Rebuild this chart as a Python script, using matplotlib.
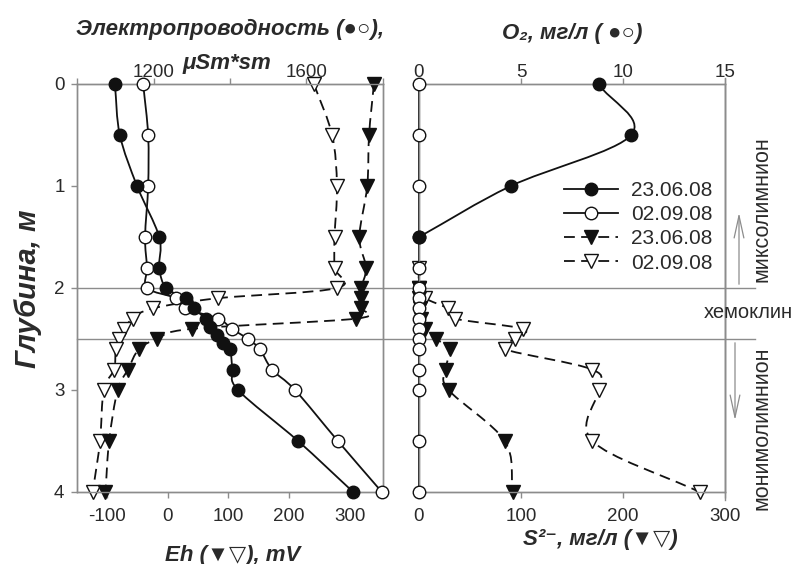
import numpy as np
import matplotlib
matplotlib.use('Agg')
import matplotlib.pyplot as plt
from matplotlib.path import Path
from matplotlib.patches import PathPatch, FancyArrowPatch
from matplotlib.lines import Line2D
import matplotlib.transforms as mtransforms

# ---------------- data ----------------
# Electroconductivity, uSm*sm
cond_jun_depth = [0, 0.5, 1.0, 1.5, 1.8, 2.0, 2.1, 2.2, 2.3, 2.38, 2.46, 2.54, 2.6, 2.8, 3.0, 3.5, 4.0]
cond_jun = [1099, 1112, 1157, 1215, 1215, 1233, 1285, 1305, 1336, 1347, 1366, 1382, 1400, 1407, 1421, 1578, 1722]
cond_sep_depth = [0, 0.5, 1.0, 1.5, 1.8, 2.0, 2.1, 2.2, 2.3, 2.4, 2.5, 2.6, 2.8, 3.0, 3.5, 4.0]
cond_sep = [1173, 1186, 1186, 1178, 1183, 1183, 1259, 1282, 1369, 1405, 1447, 1478, 1510, 1570, 1682, 1797]

# Eh, mV
eh_jun_depth = [0, 0.5, 1.0, 1.5, 1.8, 2.0, 2.1, 2.2, 2.3, 2.4, 2.5, 2.6, 2.8, 3.0, 3.5, 4.0]
eh_jun = [340, 332, 329, 316, 327, 319, 319, 319, 311, 40, -18, -48, -66, -83, -97, -103]
eh_sep_depth = [0, 0.5, 1.0, 1.5, 1.8, 2.0, 2.1, 2.2, 2.3, 2.4, 2.5, 2.6, 2.8, 3.0, 3.5, 4.0]
eh_sep = [241, 271, 279, 275, 275, 279, 83, -25, -58, -72, -81, -86, -89, -106, -112, -124]

# O2, mg/l
o2_jun_depth = [0, 0.5, 1.0, 1.5]
o2_jun = [8.8, 10.4, 4.5, 0]
o2_sep_depth = [0, 0.5, 1.0, 1.5, 1.8, 2.0, 2.1, 2.2, 2.3, 2.4, 2.5, 2.6, 2.8, 3.0, 3.5, 4.0]
o2_sep = [0, 0, 0, 0, 0, 0, 0, 0, 0, 0, 0, 0, 0, 0, 0, 0]

# S2-, mg/l
s_jun_depth = [2.0, 2.1, 2.2, 2.3, 2.4, 2.5, 2.6, 2.8, 3.0, 3.5, 4.0]
s_jun = [0, 0, 1, 2, 6, 17, 30, 26, 29, 84, 92]
s_sep_depth = [1.8, 2.0, 2.1, 2.2, 2.3, 2.4, 2.5, 2.6, 2.8, 3.0, 3.5, 4.0]
s_sep = [0, 0, 6, 28, 35, 102, 94, 84, 170, 176, 170, 275]

legend_labels = ['23.06.08', '02.09.08', '23.06.08', '02.09.08']
chemocline = [2.0, 2.5]

depth_ticks = [0, 1, 2, 3, 4]
eh_ticks = [-100, 0, 100, 200, 300]
cond_ticks = [1000, 1200, 1400, 1600, 1800]
cond_ticklabels = ['', '1200', '', '1600', '']
o2_ticks = [0, 5, 10, 15]
s_ticks = [0, 100, 200, 300]

# ---------------- style ----------------
plt.rcParams['font.family'] = ['Liberation Sans', 'DejaVu Sans']

GRAY = '#8c8c8c'
TXT = '#2a2a2a'
LW = 1.3
MS_C = 9
MS_T = 9.5
DASH = (0, (6, 3.5))
TICK_FS = 13.5

W, H = 795, 564
fig = plt.figure(figsize=(W / 100, H / 100), dpi=100)


def fx(px):
    return px / W


def fy(py):
    return 1 - py / H


def smooth_path(x, y):
    P = np.column_stack([np.asarray(x, float), np.asarray(y, float)])
    if len(P) < 3:
        return Path(P)
    Pe = np.vstack([2 * P[0] - P[1], P, 2 * P[-1] - P[-2]])
    verts = [P[0]]
    codes = [Path.MOVETO]
    for i in range(len(P) - 1):
        p0, p1, p2, p3 = Pe[i], Pe[i + 1], Pe[i + 2], Pe[i + 3]
        verts += [p1 + (p2 - p0) / 6, p2 - (p3 - p1) / 6, p2]
        codes += [Path.CURVE4] * 3
    return Path(verts, codes)


def profile(ax, vals, depth, marker, filled, dashed, ms):
    ls = DASH if dashed else '-'
    ax.add_patch(PathPatch(smooth_path(vals, depth), fill=False, edgecolor='#111111',
                           lw=LW, linestyle=ls, zorder=2, clip_on=False))
    ax.plot(vals, depth, linestyle='none', marker=marker, ms=ms,
            mfc='#111111' if filled else 'white', mec='#111111', mew=1.0,
            zorder=3, clip_on=False)


def style_axes(ax):
    ax.set_facecolor('none')
    for s in ax.spines.values():
        s.set_color(GRAY)
        s.set_linewidth(1.0)


# ---------------- left panel ----------------
axL = fig.add_axes([fx(77), fy(492), fx(383) - fx(77), fy(84) - fy(492)])
style_axes(axL)
axL.set_ylim(4, 0)
axL.set_xlim(-150, 355)
axL.set_yticks(depth_ticks)
axL.set_yticklabels([str(t) for t in depth_ticks])
axL.set_xticks(eh_ticks)
axL.set_xticklabels([str(t) if t >= 0 else '-' + str(-t) for t in eh_ticks])
axL.tick_params(axis='both', direction='out', length=4, color=GRAY, width=1.0,
                labelsize=TICK_FS, labelcolor=TXT)
axL.tick_params(axis='x', pad=7.5)
axL.tick_params(axis='y', pad=5)
profile(axL, eh_sep, eh_sep_depth, 'v', False, True, MS_T)
profile(axL, eh_jun, eh_jun_depth, 'v', True, True, MS_T)

axT = axL.twiny()
style_axes(axT)
axT.set_xlim(1000, 1800)
axT.set_ylim(4, 0)
axT.set_xticks(cond_ticks)
axT.set_xticklabels(cond_ticklabels)
axT.tick_params(axis='x', direction='out', length=4, color=GRAY, width=1.0,
                labelsize=TICK_FS, labelcolor=TXT, pad=-1.5)
profile(axT, cond_sep, cond_sep_depth, 'o', False, False, MS_C)
profile(axT, cond_jun, cond_jun_depth, 'o', True, False, MS_C)

# ---------------- right panel ----------------
axR = fig.add_axes([fx(419), fy(492), fx(725) - fx(419), fy(84) - fy(492)])
style_axes(axR)
axR.set_ylim(4, 0)
axR.set_xlim(0, 300)
axR.set_yticks([])
axR.set_xticks(s_ticks)
axR.set_xticklabels([str(t) for t in s_ticks])
axR.tick_params(axis='x', direction='out', length=4, color=GRAY, width=1.0,
                labelsize=TICK_FS, labelcolor=TXT, pad=7.5)
profile(axR, s_sep, s_sep_depth, 'v', False, True, MS_T)
profile(axR, s_jun, s_jun_depth, 'v', True, True, MS_T)

axRT = axR.twiny()
style_axes(axRT)
axRT.set_xlim(0, 15)
axRT.set_ylim(4, 0)
axRT.set_xticks(o2_ticks)
axRT.set_xticklabels([str(t) for t in o2_ticks])
axRT.tick_params(axis='x', direction='out', length=4, color=GRAY, width=1.0,
                 labelsize=TICK_FS, labelcolor=TXT, pad=-1.5)
profile(axRT, o2_sep, o2_sep_depth, 'o', False, False, MS_C)
profile(axRT, o2_jun, o2_jun_depth, 'o', True, False, MS_C)

# ---------------- chemocline lines & annotations ----------------
blend = mtransforms.blended_transform_factory(fig.transFigure, axL.transData)
for d in chemocline:
    fig.add_artist(Line2D([fx(77), fx(755)], [d, d], transform=blend,
                          color=GRAY, lw=1.0, zorder=-1))
# extended right border of right panel
fig.add_artist(Line2D([fx(725), fx(725)], [fy(78), fy(500)], transform=fig.transFigure,
                      color=GRAY, lw=1.0, zorder=-1))

arrow_kw = dict(transform=fig.transFigure, arrowstyle='->,head_length=1.6,head_width=0.35',
                mutation_scale=10, lw=0.9, color=GRAY)
fig.add_artist(FancyArrowPatch((fx(739), fy(287)), (fx(739), fy(210)), **arrow_kw))
fig.add_artist(FancyArrowPatch((fx(735), fy(340)), (fx(735), fy(423)), **arrow_kw))

fig.text(fx(762), fy(209), 'миксолимнион', rotation=90, ha='center', va='center',
         fontsize=15.5, color=TXT)
fig.text(fx(762), fy(428), 'монимолимнион', rotation=90, ha='center', va='center',
         fontsize=15.5, color=TXT)
fig.text(fx(748), fy(312), 'хемоклин', ha='center', va='center', fontsize=14.5, color=TXT)

# ---------------- axis titles ----------------
title_kw = dict(fontweight='bold', fontstyle='italic', color=TXT, ha='center', va='center')
fig.text(fx(230), fy(29), 'Электропроводность (●○),', fontsize=16, **title_kw)
fig.text(fx(227), fy(63), 'μSm*sm', fontsize=16, **title_kw)
fig.text(fx(572), fy(33), 'O₂, мг/л ( ●○)', fontsize=16, **title_kw)
fig.text(fx(233), fy(555), 'Eh (▼▽), mV', fontsize=16, **title_kw)
fig.text(fx(600), fy(539), 'S²⁻, мг/л (▼▽)', fontsize=16, **title_kw)
fig.text(fx(28), fy(289), 'Глубина, м', rotation=90, fontsize=21, **title_kw)

# ---------------- legend ----------------
handles = [
    Line2D([], [], color='#111111', lw=LW, marker='o', ms=MS_C, mfc='#111111', mec='#111111'),
    Line2D([], [], color='#111111', lw=LW, marker='o', ms=MS_C, mfc='white', mec='#111111'),
    Line2D([], [], color='#111111', lw=LW, ls=DASH, marker='v', ms=MS_T, mfc='#111111', mec='#111111'),
    Line2D([], [], color='#111111', lw=LW, ls=DASH, marker='v', ms=MS_T, mfc='white', mec='#111111'),
]
fig.legend(handles, legend_labels, loc='upper left',
           bbox_to_anchor=(fx(564), fy(181)), bbox_transform=fig.transFigure,
           frameon=False, fontsize=15, handlelength=2.6, handletextpad=0.6,
           labelspacing=0.25, borderpad=0, borderaxespad=0, labelcolor=TXT)

fig.savefig('out.png', dpi=100)
